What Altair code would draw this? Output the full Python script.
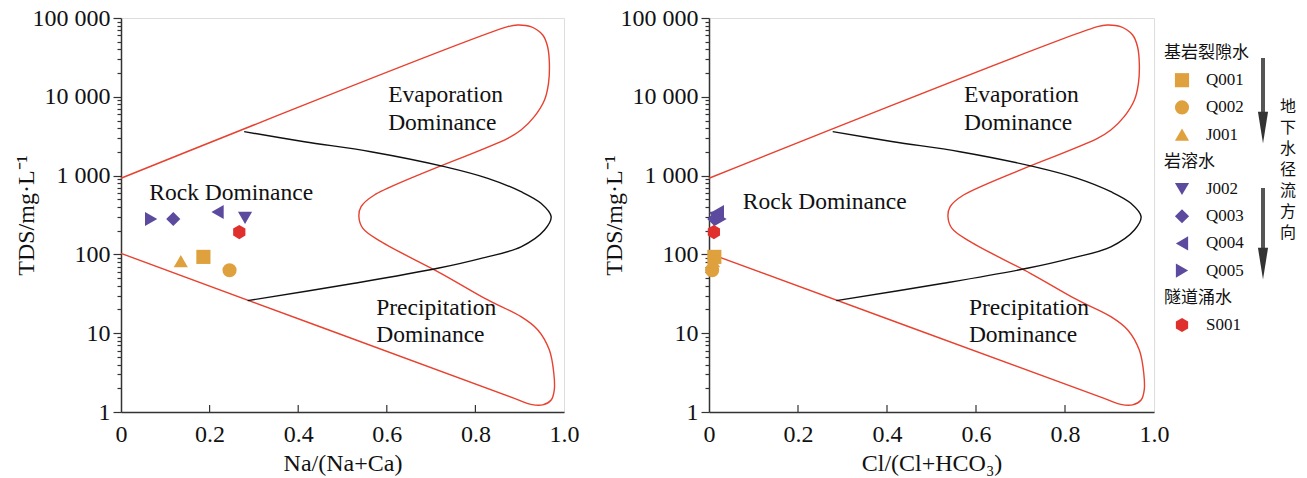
import altair as alt
import pandas as pd

# ---------------- data ----------------
samples = ["Q001", "Q002", "J001", "J002", "Q003", "Q004", "Q005", "S001"]
tds = [93, 63, 82, 290, 281, 345, 281, 192]
na_ratio = [0.186, 0.245, 0.135, 0.280, 0.118, 0.218, 0.068, 0.267]
cl_ratio = [0.012, 0.007, 0.009, 0.016, 0.012, 0.020, 0.026, 0.011]
sample_colors = ["#DFA13D", "#DFA13D", "#DFA13D", "#5B4A9E", "#5B4A9E", "#5B4A9E", "#5B4A9E", "#E0302E"]
HEX = "M0,-1 L0.866,-0.5 L0.866,0.5 L0,1 L-0.866,0.5 L-0.866,-0.5 Z"
sample_shapes = ["square", "circle", "triangle-up", "triangle-down", "diamond",
                 "triangle-left", "triangle-right", HEX]

# Gibbs boundary (red) and divider (black) curves
red_x = [0.0, 0.873, 0.895, 0.925, 0.952, 0.963, 0.967, 0.965, 0.956, 0.933, 0.903, 0.873,
         0.572, 0.542, 0.537, 0.546, 0.587, 0.722, 0.828, 0.903, 0.941, 0.967, 0.977, 0.978,
         0.971, 0.952, 0.925, 0.888, 0.0]
red_tds = [925, 77600, 81500, 77600, 60800, 43200, 26600, 14800, 9100, 5600, 3790, 2970,
           567, 403, 301, 214, 145, 57.6, 26.4, 16.2, 11.0, 6.1, 3.1, 1.9,
           1.42, 1.23, 1.25, 1.49, 103]
blk_x = [0.278, 0.414, 0.564, 0.730, 0.828, 0.903, 0.948, 0.971, 0.956, 0.903, 0.813, 0.715, 0.527, 0.286]
blk_tds = [3610, 2690, 2010, 1300, 923, 625, 445, 301, 204, 125, 89, 66.6, 43, 25.9]

ann_text = ["Evaporation", "Dominance", "Rock Dominance", "Precipitation", "Dominance"]
ann_y_left = [10500, 4610, 596, 20.7, 9.5]
ann_x_left = [0.603, 0.603, 0.064, 0.576, 0.576]
ann_y_right = [10500, 4610, 462, 20.7, 9.5]
ann_x_right = [0.573, 0.573, 0.076, 0.584, 0.584]

y_major = [1, 10, 100, 1000, 10000, 100000]
y_minor = [m * d for d in [1, 10, 100, 1000, 10000] for m in range(2, 10)]
x_ticks = [0, 0.2, 0.4, 0.6, 0.8, 1.0]

legend_groups = [("基岩裂隙水", ["Q001", "Q002", "J001"]),
                 ("岩溶水", ["J002", "Q003", "Q004", "Q005"]),
                 ("隧道涌水", ["S001"])]
flow_text = list("地下水径流方向")

# ---------------- style ----------------
SERIF = "Liberation Serif"
CJK = "Noto Sans CJK SC"
AX = "#333333"
W_L, W_R, H = 443, 445, 394
GAP = 145

shape_scale = alt.Scale(domain=samples, range=sample_shapes)
color_scale = alt.Scale(domain=samples, range=sample_colors)
y_scale = alt.Scale(type="log", domain=[1, 100000], nice=False)
x_scale = alt.Scale(domain=[0, 1], nice=False, zero=False)

is_major = "indexof([1,10,100,1000,10000,100000], datum.value) >= 0"
y_axis = alt.Axis(
    values=y_major + y_minor,
    labelExpr=("(" + is_major + ") ? (datum.value >= 1000 ? format(datum.value/1000, 'd') + ' 000' : "
               "format(datum.value, 'd')) : ''"),
    tickSize={"condition": {"test": is_major, "value": 8}, "value": 4},
    labelOverlap=False, grid=False, labelPadding=3,
    labelFont=SERIF, labelFontSize=24, labelColor="#111",
    title="TDS/mg·L⁻¹", titleFont=SERIF, titleFontSize=24, titleFontWeight="normal",
    titleColor="#111", titlePadding=3, minExtent=80, maxExtent=80,
    domainColor=AX, tickColor=AX, domainWidth=1.5, tickWidth=1.2,
)


def x_axis(title):
    return alt.Axis(values=x_ticks, labelExpr="datum.value == 0 ? '0' : format(datum.value, '.1f')",
                    ticks=False, tickSize=0, grid=False, labelPadding=10, labelFlush=False,
                    labelFont=SERIF, labelFontSize=24, labelColor="#111",
                    title=title, titleFont=SERIF, titleFontSize=24, titleFontWeight="normal",
                    titleColor="#111", titlePadding=5, domainColor=AX, domainWidth=1.5)


def panel(ratio, ann_x, ann_y, xtitle, width):
    X = alt.X("x:Q", scale=x_scale, axis=x_axis(xtitle))
    Y = alt.Y("y:Q", scale=y_scale, axis=y_axis)
    red = pd.DataFrame({"x": red_x, "y": red_tds, "i": range(len(red_x))})
    blk = pd.DataFrame({"x": blk_x, "y": blk_tds, "i": range(len(blk_x))})
    pts = pd.DataFrame({"x": ratio, "y": tds, "s": samples})
    ann = pd.DataFrame({"x": ann_x, "y": ann_y, "t": ann_text})
    tk = pd.DataFrame({"x": x_ticks[1:-1]})

    red_l = alt.Chart(red).mark_line(color="#E8412F", strokeWidth=1.4, interpolate="catmull-rom").encode(
        x=X, y=Y, order="i:Q")
    blk_l = alt.Chart(blk).mark_line(color="#111111", strokeWidth=1.4, interpolate="catmull-rom").encode(
        x=X, y=Y, order="i:Q")
    ticks = alt.Chart(tk).mark_rule(color=AX, strokeWidth=1.2).encode(
        x=X, y=alt.value(H), y2=alt.value(H - 7))
    txt = alt.Chart(ann).mark_text(align="left", baseline="middle", font=SERIF, fontSize=23.5,
                                   color="#111").encode(x=X, y=Y, text="t:N")
    points = alt.Chart(pts).mark_point(filled=True, opacity=1, size=200).encode(
        x=X, y=Y,
        shape=alt.Shape("s:N", scale=shape_scale, legend=None),
        color=alt.Color("s:N", scale=color_scale, legend=None))
    return alt.layer(red_l, blk_l, ticks, txt, points).properties(width=width, height=H)


left = panel(na_ratio, ann_x_left, ann_y_left, "Na/(Na+Ca)", W_L)
right = panel(cl_ratio, ann_x_right, ann_y_right, "Cl/(Cl+HCO₃)", W_R)

# ---------------- custom legend (placed left of its own 1-px cell) ----------------
LY0, LDY = 35, 27.2
rows = []
for head, items in legend_groups:
    rows.append(("head", head))
    for it in items:
        rows.append(("item", it))
leg = pd.DataFrame({"kind": [r[0] for r in rows], "t": [r[1] for r in rows]})
leg["y"] = [LY0 + i * LDY for i in range(len(leg))]
heads = leg[leg.kind == "head"]
items = leg[leg.kind == "item"].rename(columns={"t": "s"})

pix = alt.Scale(domain=[0, H], range=[0, H], nice=False, zero=False)
LY = alt.Y("y:Q", scale=pix, axis=None)
ORIGIN = 10 - GAP  # legend block starts 10 px right of the right panel
HX, MX, TX, AXX, VX = ORIGIN, ORIGIN + 18, ORIGIN + 42, ORIGIN + 99, ORIGIN + 124

head_l = alt.Chart(heads).mark_text(align="left", baseline="middle", font=CJK, fontSize=17,
                                    color="#111").encode(x=alt.value(HX), y=LY, text="t:N")
mark_l = alt.Chart(items).mark_point(filled=True, opacity=1, size=200).encode(
    x=alt.value(MX), y=LY,
    shape=alt.Shape("s:N", scale=shape_scale, legend=None),
    color=alt.Color("s:N", scale=color_scale, legend=None))
lab_l = alt.Chart(items).mark_text(align="left", baseline="middle", font=SERIF, fontSize=17,
                                   color="#111").encode(x=alt.value(TX), y=LY, text="s:N")

ys = list(leg["y"])
arrows = pd.DataFrame({"y": [ys[0] + 5, ys[5] - 1], "y2": [ys[3] - 22, ys[8] - 22],
                       "yh": [ys[3] - 7, ys[8] - 7]})
shaft = alt.Chart(arrows).mark_rule(color="#555", strokeWidth=4).encode(
    x=alt.value(AXX), y=LY, y2="y2:Q")
ARROW = "M-0.32,-1 L0.32,-1 L0,1 Z"
head_a = alt.Chart(arrows).mark_point(shape=ARROW, filled=True, opacity=1, color="#333",
                                      size=1000).encode(x=alt.value(AXX), y=alt.Y("yh:Q", scale=pix, axis=None))

# vertical caption as one multi-line text block (first line anchored at FLOW_TOP)
FLOW_TOP, FLOW_STEP = 89, 21
flow = pd.DataFrame({"t": ["\n".join(flow_text)], "y": [FLOW_TOP]})
flow_l = alt.Chart(flow).mark_text(align="center", baseline="middle", font=CJK, fontSize=16,
                                   lineBreak="\n", lineHeight=FLOW_STEP,
                                   color="#111").encode(x=alt.value(VX), y=LY, text="t:N")

legend = alt.layer(head_l, mark_l, lab_l, shaft, head_a, flow_l).properties(
    width=1, height=H, view=alt.ViewBackground(stroke=None))

chart = alt.hconcat(left, right, legend, spacing=GAP, bounds="flush").resolve_scale(
    shape="shared", color="shared").properties(
    padding={"left": 13, "top": 5, "right": 0, "bottom": 0}
).configure_view(stroke=AX, strokeWidth=1.5).configure(background="white")

chart.save("out.html", embed_options={"renderer": "svg", "actions": False})
